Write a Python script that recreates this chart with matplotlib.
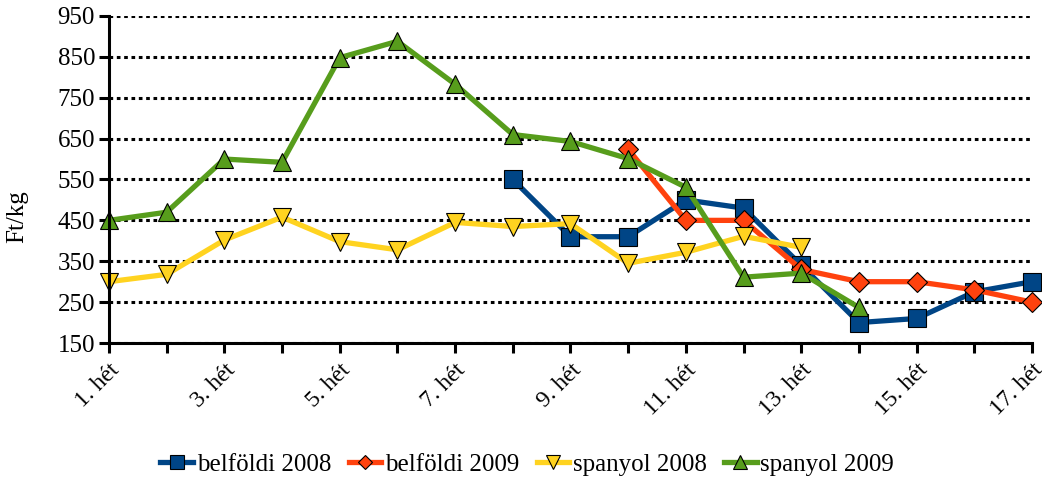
import numpy as np
import matplotlib
matplotlib.use("Agg")
import matplotlib.pyplot as plt

plt.rcParams['font.family'] = ['Liberation Serif', 'DejaVu Serif']

weeks = [f"{i}. hét" for i in range(1, 18)]

belfoldi_2008 = [None] * 7 + [550, 410, 410, 500, 480, 340, 200, 210, 275, 300]
belfoldi_2009 = [None] * 9 + [624, 450, 450, 330, 300, 300, 280, 250]
spanyol_2008 = [300, 318, 402, 458, 398, 378, 445, 435, 442, 345, 372, 411, 384] + [None] * 4
spanyol_2009 = [450, 470, 600, 592, 848, 888, 783, 660, 643, 601, 531, 311, 321, 237] + [None] * 3

series = [
    ("belföldi 2008", belfoldi_2008, "#004586", "s", 13),
    ("belföldi 2009", belfoldi_2009, "#ff420e", "D", 10),
    ("spanyol 2008", spanyol_2008, "#ffd320", "v", 13),
    ("spanyol 2009", spanyol_2009, "#579d1c", "^", 13),
]

fig = plt.figure(figsize=(10.42, 4.84), dpi=100)
ax = fig.add_axes([0.1046, 0.2913, 0.8858, 0.6757])

x = np.arange(1, 18)
for name, vals, color, mk, ms in series:
    y = np.array([np.nan if v is None else v for v in vals], dtype=float)
    ax.plot(x, y, color=color, lw=3.8, marker=mk, ms=ms,
            markerfacecolor=color, markeredgecolor="black", markeredgewidth=0.8,
            label=name, clip_on=False)

ax.set_xlim(1, 17)
ax.set_ylim(150, 950)
ax.set_yticks(range(150, 951, 100))
ax.set_xticks(x)
ax.set_xticklabels([w if i % 2 == 0 else "" for i, w in enumerate(weeks)],
                   rotation=45, ha="right", rotation_mode="anchor")

ax.yaxis.grid(True, color="black", lw=2.2, linestyle=(0, (1.2, 1.2)))
ax.set_axisbelow(True)
for s in ["top", "right"]:
    ax.spines[s].set_visible(False)
for s in ["left", "bottom"]:
    ax.spines[s].set_linewidth(2.2)
ax.tick_params(axis="both", width=2.2, length=7, labelsize=18, pad=3)
ax.tick_params(axis="x", pad=5, labelsize=17)

ax.set_ylabel("Ft/kg", fontsize=18)
ax.yaxis.set_label_coords(-0.088, 0.385)

fig.legend(*ax.get_legend_handles_labels(), loc="center", bbox_to_anchor=(0.506, 0.04),
           ncol=4, frameon=False, fontsize=18, handlelength=1.3, markerscale=0.75,
           columnspacing=0.7, handletextpad=0.15, borderpad=0.1)

fig.savefig("out.png", dpi=100)
